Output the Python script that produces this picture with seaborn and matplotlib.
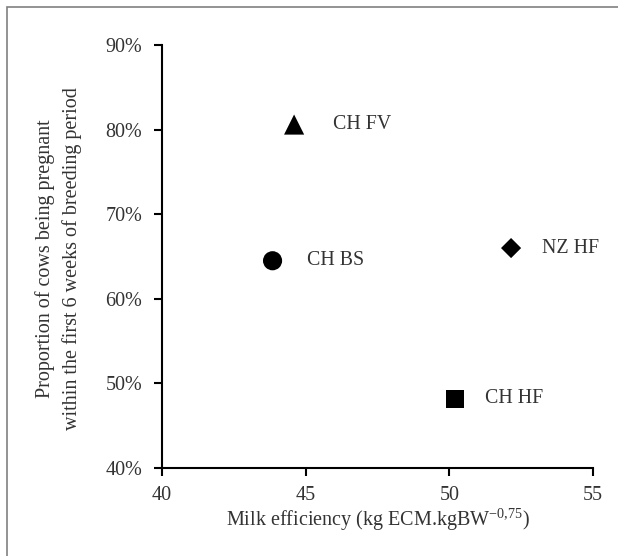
import pandas as pd
import seaborn as sns
import matplotlib.pyplot as plt
from matplotlib.ticker import PercentFormatter
from matplotlib.patches import Rectangle

breeds = ['CH FV', 'CH BS', 'NZ HF', 'CH HF']
milk_eff = [44.6, 43.85, 52.15, 50.2]
pregnant = [0.806, 0.645, 0.660, 0.482]

df = pd.DataFrame({'breed': breeds, 'eff': milk_eff, 'preg': pregnant})

sns.set_style('white')
plt.rcParams['font.family'] = ['Liberation Serif', 'DejaVu Serif']
plt.rcParams['mathtext.fontset'] = 'custom'
plt.rcParams['mathtext.rm'] = 'Liberation Serif'
txt = '#333333'

fig = plt.figure(figsize=(6.18, 5.56), dpi=100)
ax = fig.add_axes([0.262, 0.1583, 0.6975, 0.7607])

markers = {'CH FV': '^', 'CH BS': 'o', 'NZ HF': 'D', 'CH HF': 's'}
sizes = {'CH FV': 210, 'CH BS': 190, 'NZ HF': 105, 'CH HF': 170}
sns.scatterplot(data=df, x='eff', y='preg', style='breed', markers=markers,
                size='breed', sizes=sizes, color='black', edgecolor='black',
                linewidth=0, legend=False, ax=ax)

# label offsets (pixels) to the right of each marker
offsets = {'CH FV': 39, 'CH BS': 34, 'NZ HF': 31, 'CH HF': 30}
for b, x, y in zip(breeds, milk_eff, pregnant):
    ax.annotate(b, (x, y), xytext=(offsets[b], 0), textcoords='offset pixels',
                ha='left', va='center', fontsize=14.3, color=txt)

ax.set_xlim(40, 55)
ax.set_ylim(0.4, 0.9)
ax.set_xticks([40, 45, 50, 55])
ax.set_yticks([0.4, 0.5, 0.6, 0.7, 0.8, 0.9])
ax.yaxis.set_major_formatter(PercentFormatter(1.0, decimals=0))

for s in ['top', 'right']:
    ax.spines[s].set_visible(False)
for s in ['left', 'bottom']:
    ax.spines[s].set_color('black')
    ax.spines[s].set_linewidth(1.5)
ax.tick_params(axis='both', which='major', direction='out', length=6, width=1.5,
               color='black', labelsize=14.5, labelcolor=txt)
ax.tick_params(axis='x', pad=7, bottom=True)
ax.tick_params(axis='y', pad=8, left=True)

ax.set_xlabel(r'Milk efficiency (kg ECM.kgBW$^{\mathregular{-0{,}75}}$)',
              fontsize=14.5, color=txt, labelpad=1)
ax.set_ylabel('')
fig.text(58.5 / 618, 1 - 259 / 556,
         'Proportion of cows being pregnant\nwithin the first 6 weeks of breeding period',
         rotation=90, ha='center', va='center', multialignment='center',
         fontsize=14.5, color=txt, linespacing=1.42)

fig.patches.append(Rectangle((6.5 / 618, -0.1), 1.2, 1 - 6.5 / 556 + 0.1,
                             transform=fig.transFigure, fill=False,
                             edgecolor='#808080', linewidth=1.2))

fig.savefig('out.png', dpi=100)
